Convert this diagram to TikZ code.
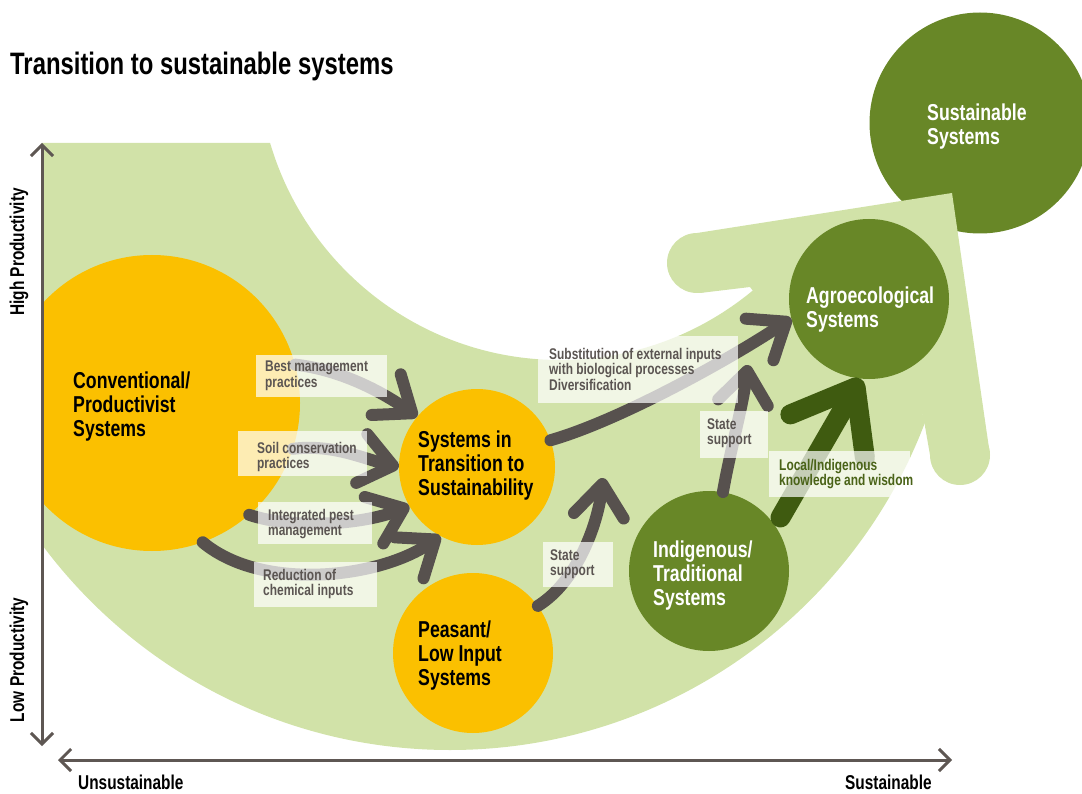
\documentclass[tikz,border=0pt]{standalone}
\usepackage{fontspec}
\newfontfamily\condfont{Liberation Sans}[FakeStretch=0.77]
\usetikzlibrary{arrows.meta, positioning, calc}
\definecolor{FieldGreen}{HTML}{D1E2A8}
\definecolor{SysYellow}{HTML}{FBC000}
\definecolor{SysGreen}{HTML}{688727}
\definecolor{DeepGreen}{HTML}{3F5B10}
\definecolor{FlowGray}{HTML}{57514E}
\definecolor{AxisGray}{HTML}{5E5753}
\definecolor{LabelGray}{HTML}{5B5552}
\definecolor{LabelGreen}{HTML}{4A6318}
\tikzset{
    sys/.style={circle, minimum size=160pt, inner sep=0pt},
    yellowsys/.style={sys, fill=SysYellow},
    greensys/.style={sys, fill=SysGreen},
    systext/.style={anchor=north west, inner sep=0pt, align=left, font=\condfont\bfseries\fontsize{23}{24}\selectfont},
    lbltext/.style={anchor=north west, inner sep=0pt, align=left, text=LabelGray, font=\condfont\bfseries\fontsize{15.5}{15.5}\selectfont},
    lblbox/.style={fill=white, fill opacity=0.7},
    flow/.style={draw=FlowGray, line width=12pt, line cap=round, -{Straight Barb[length=32pt, width=50pt, round]}},
    deepflow/.style={draw=DeepGreen, line width=20pt, line cap=round, -{Straight Barb[length=56pt, width=86pt, round]}},
    axis/.style={draw=AxisGray, line width=3pt, {Straight Barb[length=11pt, width=22pt]}-{Straight Barb[length=11pt, width=22pt]}},
    axtext/.style={inner sep=0pt, font=\condfont\bfseries\fontsize{20}{20}\selectfont}
}

\begin{document}
\begin{tikzpicture}[x=1pt, y=-1pt]
    \useasboundingbox (0,0) rectangle (1082,794);
    \clip (0,0) rectangle (1082,794);

    \node[anchor=north west, inner sep=0pt, font=\condfont\bfseries\fontsize{31}{31}\selectfont] (title) at (10,52) {Transition to sustainable systems};

    \node[greensys, minimum size=221pt] (sust) at (980,123) {};

    % the swoosh
    \begin{scope}
        \clip (42,143) rectangle (1082,794);
        \begin{scope}
            \clip (42,143) -- (555,143) -- (1000,472) -- (1000,794) -- (42,794) -- cycle;
            \fill[FieldGreen, even odd rule] (450,242) circle (508) (560,58) circle (302);
        \end{scope}
        \fill[FieldGreen] (750,287) -- (700,293) -- (697,233) -- (952,193) -- (990,455) -- (930,455) -- (923,415) -- (840,380) -- (760,300) -- cycle;
        \fill[FieldGreen] (697,263) circle (30) (960,455) circle (30);
        \node[yellowsys, minimum size=296pt] (conv) at (152,403) {};
    \end{scope}

    \node[yellowsys, minimum size=156pt] (trans) at (477,467) {};
    \node[yellowsys] (peas) at (473,653) {};
    \node[greensys] (indig) at (709,571) {};
    \node[greensys] (agro) at (869,299) {};

    \coordinate (statetip) at (603,478);
    \coordinate (statetop) at (748,365);
    \draw[flow] (conv.15) .. controls +(45,5) and +(-35,-25) .. (trans.140);
    \draw[flow] (conv.-18) .. controls +(40,-5) and +(-35,-8) .. (trans.180);
    \draw[flow] (conv.-49) .. controls +(45,15) and +(-45,18) .. (trans.210);
    \draw[flow] (conv.-70) .. controls +(60,50) and +(-60,42) .. (trans.242);
    \draw[flow] (trans.20) .. controls +(70,-20) and +(-60,40) .. (agro.194);
    \draw[flow] (peas.36) .. controls +(40,-25) and +(-5,45) .. (statetip);
    \draw[flow] (indig.80) .. controls +(8,-45) and +(-6,45) .. (statetop);
    \draw[deepflow, shorten <=10pt] (indig.34) -- (agro.264);

    \fill[lblbox] (256,355) rectangle (387,397);
    \fill[lblbox] (238,431) rectangle (367,476);
    \fill[lblbox] (258,502) rectangle (372,544);
    \fill[lblbox] (254,562) rectangle (377,607);
    \fill[lblbox] (543,542) rectangle (613,587);
    \fill[lblbox] (538,336) rectangle (738,403);
    \fill[lblbox] (700,411) rectangle (768,458);
    \fill[lblbox] (769,451) rectangle (910,497);
    \node[lbltext] (bestlbl) at (265,361) {Best management\\practices};
    \node[lbltext] (soillbl) at (257,442) {Soil conservation\\practices};
    \node[lbltext] (pestlbl) at (268,509) {Integrated pest\\management};
    \node[lbltext] (chemlbl) at (263,569) {Reduction of\\chemical inputs};
    \node[lbltext] (statelbl) at (550,549) {State\\support};
    \node[lbltext] (sublbl) at (549,348) {Substitution of external inputs\\with biological processes\\Diversification};
    \node[lbltext] (statelbltop) at (707,418) {State\\support};
    \node[lbltext, text=LabelGreen] (locallbl) at (779,459) {Local/Indigenous\\knowledge and wisdom};

    \node[systext] (convtext) at (73,372) {Conventional/\\Productivist\\Systems};
    \node[systext] (transtext) at (418,431) {Systems in\\Transition to\\Sustainability};
    \node[systext] (peastext) at (418,621) {Peasant/\\Low Input\\Systems};
    \node[systext, text=white] (indigtext) at (653,541) {Indigenous/\\Traditional\\Systems};
    \node[systext, text=white] (agrotext) at (806,287) {Agroecological\\Systems};
    \node[systext, text=white] (susttext) at (927,104) {Sustainable\\Systems};

    \coordinate (ytop) at (42,143);
    \coordinate (ybot) at (42,746);
    \coordinate (xleft) at (58,760);
    \coordinate (xright) at (952,760);
    \draw[axis] (ybot) -- (ytop);
    \draw[axis] (xleft) -- (xright);
    \node[axtext, rotate=90] (high) at (19,252) {High Productivity};
    \node[axtext, rotate=90] (low) at (19,660) {Low Productivity};
    \node[axtext, anchor=north west] (unsus) at (78,775) {Unsustainable};
    \node[axtext, anchor=north west] (sus) at (845,775) {Sustainable};
\end{tikzpicture}
\end{document}
